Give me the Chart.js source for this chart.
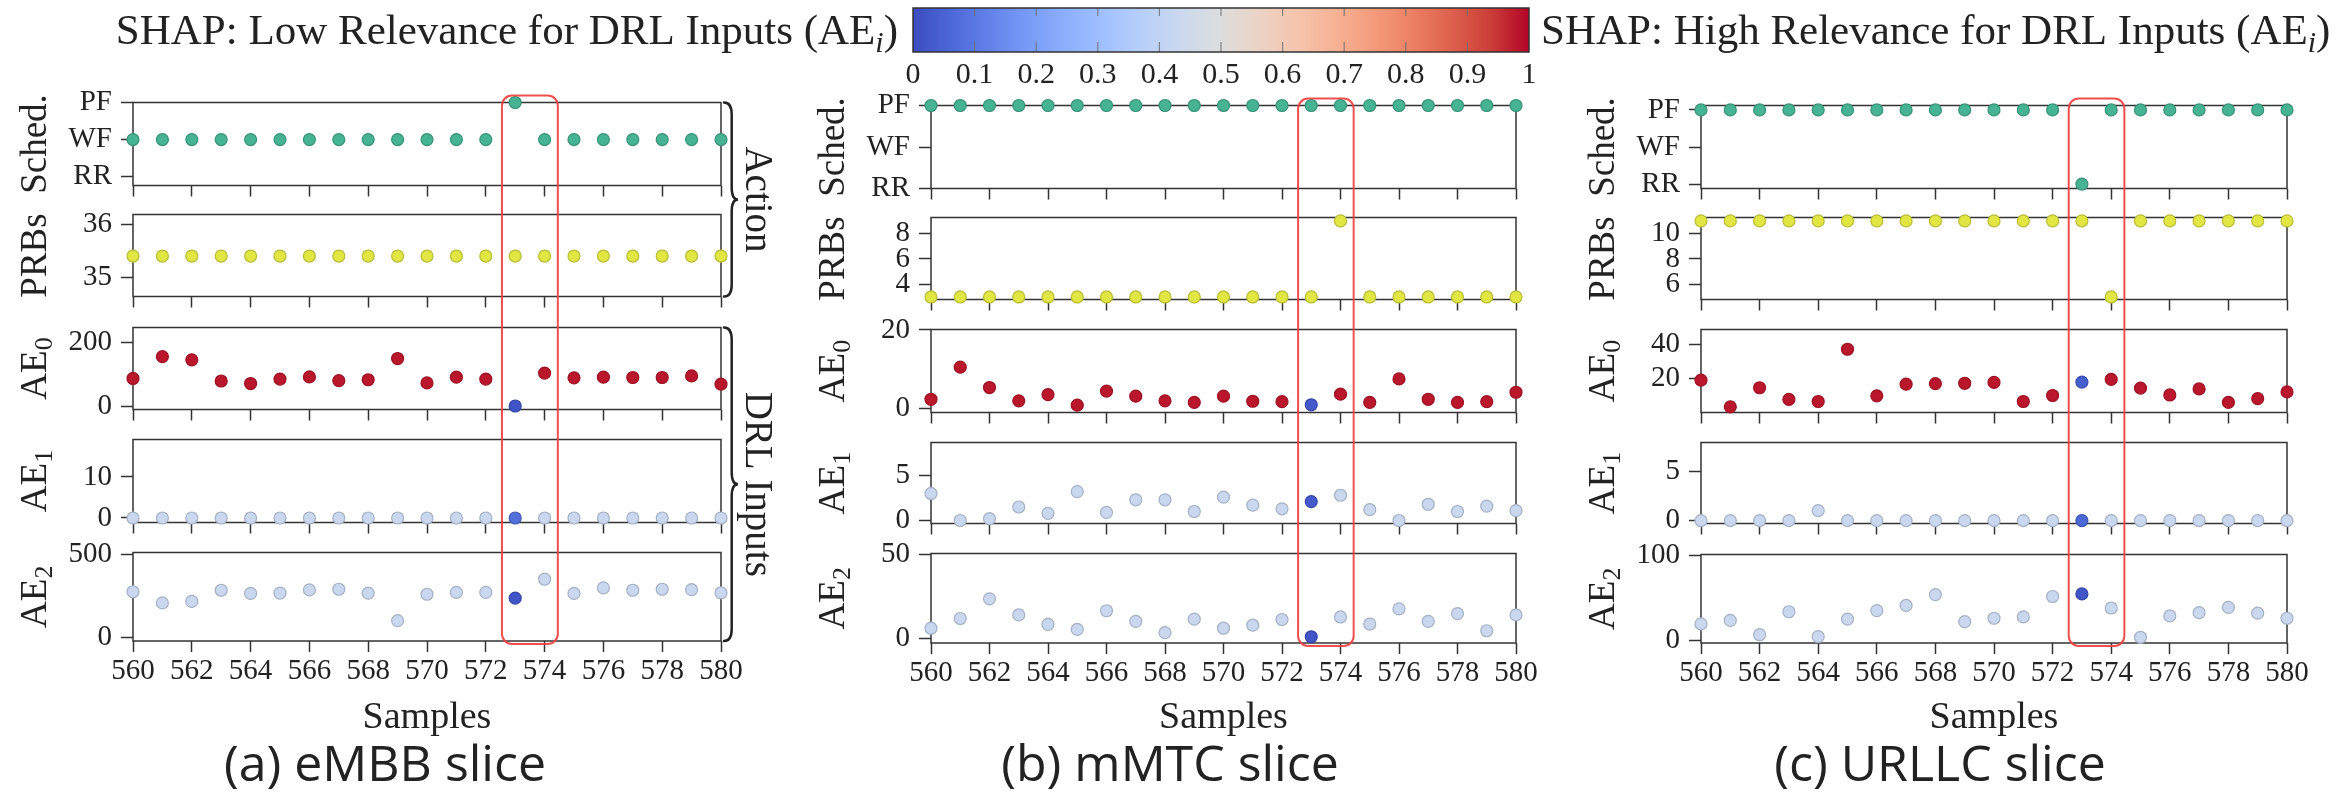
<!DOCTYPE html>
<html><head><meta charset="utf-8">
<script src="https://cdn.jsdelivr.net/npm/chart.js@4.4.1/dist/chart.umd.min.js"></script>
<style>
html,body{margin:0;padding:0;background:#fff;}
#wrap{position:relative;width:2343px;height:792px;overflow:hidden;background:#fff;}
#wrap canvas{position:absolute;}
</style></head><body><div id="wrap"></div>
<script>
// ================= DATA =================
const samples = [560,561,562,563,564,565,566,567,568,569,570,571,572,573,574,575,576,577,578,579,580];
const xTickValues = [560,562,564,566,568,570,572,574,576,578,580];
const schedLabels = ['RR','WF','PF'];          // value 0,1,2
const schedTickValues = [0,1,2];
const colorbarTicks = [0,0.1,0.2,0.3,0.4,0.5,0.6,0.7,0.8,0.9,1];
const highlightSamples = [572.55, 574.45];

// (a) eMBB slice
const embbSched = [1,1,1,1,1,1,1,1,1,1,1,1,1,2,1,1,1,1,1,1,1];
const embbPRBs  = [35.4,35.4,35.4,35.4,35.4,35.4,35.4,35.4,35.4,35.4,35.4,35.4,35.4,35.4,35.4,35.4,35.4,35.4,35.4,35.4,35.4];
const embbAE0   = [87,156,146,79,71,85,92,80,83,150,73,91,85,0,104,89,91,90,90,95,69];
const embbAE1   = [0,0,0,0,0,0,0,0,0,0,0,0,0,0,0,0,0,0,0,0,0];
const embbAE2   = [276,209,218,285,266,268,287,291,268,103,261,272,272,238,351,266,299,285,291,289,270];
const embbShap0 = [0.98,0.98,0.98,0.98,0.98,0.98,0.98,0.98,0.98,0.98,0.98,0.98,0.98,0.02,0.98,0.98,0.98,0.98,0.98,0.98,0.98];
const embbShap1 = [0.43,0.43,0.43,0.43,0.43,0.43,0.43,0.43,0.43,0.43,0.43,0.43,0.43,0.08,0.43,0.43,0.43,0.43,0.43,0.43,0.43];
const embbShap2 = [0.43,0.43,0.43,0.43,0.43,0.43,0.43,0.43,0.43,0.43,0.43,0.43,0.43,0.02,0.43,0.43,0.43,0.43,0.43,0.43,0.43];
const embbPRBsTicks = [35,36];
const embbAE0Ticks = [0,200];
const embbAE1Ticks = [0,10];
const embbAE2Ticks = [0,500];

// (b) mMTC slice
const mmtcSched = [2,2,2,2,2,2,2,2,2,2,2,2,2,2,2,2,2,2,2,2,2];
const mmtcPRBs  = [3,3,3,3,3,3,3,3,3,3,3,3,3,3,9,3,3,3,3,3,3];
const mmtcAE0   = [2.3,10.5,5.3,1.9,3.5,0.8,4.4,3.1,1.9,1.5,3.1,1.8,1.7,0.9,3.6,1.5,7.5,2.3,1.5,1.7,4.1];
const mmtcAE1   = [3.0,0,0.2,1.5,0.8,3.2,0.9,2.3,2.3,1.0,2.6,1.7,1.3,2.1,2.8,1.2,0,1.8,1.0,1.6,1.1];
const mmtcAE2   = [5.9,11.7,23.4,13.8,8.2,5.2,16.3,10.0,3.3,11.3,5.9,7.7,11.1,0.8,12.6,8.4,17.4,10.0,14.6,4.4,13.8];
const mmtcShap0 = [0.98,0.98,0.98,0.98,0.98,0.98,0.98,0.98,0.98,0.98,0.98,0.98,0.98,0.03,0.98,0.98,0.98,0.98,0.98,0.98,0.98];
const mmtcShap1 = [0.43,0.43,0.43,0.43,0.43,0.43,0.43,0.43,0.43,0.43,0.43,0.43,0.43,0.03,0.43,0.43,0.43,0.43,0.43,0.43,0.43];
const mmtcShap2 = [0.43,0.43,0.43,0.43,0.43,0.43,0.43,0.43,0.43,0.43,0.43,0.43,0.43,0.02,0.43,0.43,0.43,0.43,0.43,0.43,0.43];
const mmtcPRBsTicks = [4,6,8];
const mmtcAE0Ticks = [0,20];
const mmtcAE1Ticks = [0,5];
const mmtcAE2Ticks = [0,50];

// (c) URLLC slice
const urllcSched = [2,2,2,2,2,2,2,2,2,2,2,2,2,0,2,2,2,2,2,2,2];
const urllcPRBs  = [11,11,11,11,11,11,11,11,11,11,11,11,11,11,5,11,11,11,11,11,11];
const urllcAE0   = [19.0,3.5,14.6,7.8,6.6,37.0,9.9,16.7,17.0,17.2,17.7,6.6,10.1,17.9,19.5,14.4,10.4,13.9,6.1,8.3,12.2];
const urllcAE1   = [0,0,0,0,1,0,0,0,0,0,0,0,0,0,0,0,0,0,0,0,0];
const urllcAE2   = [19.4,23.5,6.7,33.6,4.5,25,35,41,53.7,22,26,27.6,51.5,54.5,38,3.7,28.7,32.5,38.8,32,26];
const urllcShap0 = [0.98,0.98,0.98,0.98,0.98,0.98,0.98,0.98,0.98,0.98,0.98,0.98,0.98,0.04,0.98,0.98,0.98,0.98,0.98,0.98,0.98];
const urllcShap1 = [0.43,0.43,0.43,0.43,0.43,0.43,0.43,0.43,0.43,0.43,0.43,0.43,0.43,0.06,0.43,0.43,0.43,0.43,0.43,0.43,0.43];
const urllcShap2 = [0.43,0.43,0.43,0.43,0.43,0.43,0.43,0.43,0.43,0.43,0.43,0.43,0.43,0.02,0.43,0.43,0.43,0.43,0.43,0.43,0.43];
const urllcPRBsTicks = [6,8,10];
const urllcAE0Ticks = [20,40];
const urllcAE1Ticks = [0,5];
const urllcAE2Ticks = [0,100];

// ================= STYLE / LAYOUT =================
const SERIF = "'Liberation Serif', 'DejaVu Serif', serif";
const SANS = "'Open Sans', 'Noto Sans', sans-serif";
const INK = '#222';
const FRAME = '#333';
const TEAL = [69,179,148];
const YELLOW = [226,230,66];
Chart.defaults.font.family = SERIF;
Chart.defaults.font.size = 29;
Chart.defaults.font.lineHeight = 1;
Chart.defaults.color = INK;

const coolwarmStops = [[0,59,76,192],[0.03125,68,90,204],[0.0625,77,104,215],[0.125,98,130,234],[0.1875,120,155,247],[0.25,141,176,254],[0.3125,162,193,255],[0.375,184,208,249],[0.4375,204,217,238],[0.5,221,221,221],[0.5625,236,211,197],[0.625,245,196,173],[0.6875,247,177,148],[0.75,244,154,123],[0.8125,236,127,99],[0.875,222,96,77],[0.9375,203,62,56],[1,180,4,38]];
function coolwarm(t){
  for(let i=1;i<coolwarmStops.length;i++){
    const a=coolwarmStops[i-1], b=coolwarmStops[i];
    if(t<=b[0]){ const f=(t-a[0])/(b[0]-a[0]); return [a[1]+(b[1]-a[1])*f, a[2]+(b[2]-a[2])*f, a[3]+(b[3]-a[3])*f]; }
  }
  const l=coolwarmStops[coolwarmStops.length-1]; return [l[1],l[2],l[3]];
}
function rgb(c,k){ k=k||1; return 'rgb('+Math.round(c[0]*k)+','+Math.round(c[1]*k)+','+Math.round(c[2]*k)+')'; }

const panels = [
  { left:133, right:721, rows:[[99,192],[211,303],[324,416],[436,529],[549,641]], captionX:385, caption:'(a) eMBB slice', braces:true,
    series:[
      {main:'Sched.', kind:'sched', values:embbSched, ticks:schedTickValues, min:-0.24, max:2},
      {main:'PRBs', kind:'prb', values:embbPRBs, ticks:embbPRBsTicks, min:34.63, max:36.19},
      {main:'AE', sub:'0', values:embbAE0, shap:embbShap0, ticks:embbAE0Ticks, min:-11, max:248},
      {main:'AE', sub:'1', values:embbAE1, shap:embbShap1, ticks:embbAE1Ticks, min:-1.1, max:19.1},
      {main:'AE', sub:'2', values:embbAE2, shap:embbShap2, ticks:embbAE2Ticks, min:-19, max:511}
    ]},
  { left:931, right:1516, rows:[[102,195],[214,306],[326,419],[439,530],[550,643]], captionX:1170, caption:'(b) mMTC slice',
    series:[
      {main:'Sched.', kind:'sched', values:mmtcSched, ticks:schedTickValues, min:0, max:2},
      {main:'PRBs', kind:'prb', values:mmtcPRBs, ticks:mmtcPRBsTicks, min:2.8, max:9.27},
      {main:'AE', sub:'0', values:mmtcAE0, shap:mmtcShap0, ticks:mmtcAE0Ticks, min:-1.07, max:20.1},
      {main:'AE', sub:'1', values:mmtcAE1, shap:mmtcShap1, ticks:mmtcAE1Ticks, min:-0.33, max:8.65},
      {main:'AE', sub:'2', values:mmtcAE2, shap:mmtcShap2, ticks:mmtcAE2Ticks, min:-2.9, max:50.4}
    ]},
  { left:1701, right:2287, rows:[[102,195],[214,306],[326,419],[439,530],[551,643]], captionX:1940, caption:'(c) URLLC slice',
    series:[
      {main:'Sched.', kind:'sched', values:urllcSched, ticks:schedTickValues, min:-0.12, max:2.12},
      {main:'PRBs', kind:'prb', values:urllcPRBs, ticks:urllcPRBsTicks, min:4.8, max:11.27},
      {main:'AE', sub:'0', values:urllcAE0, shap:urllcShap0, ticks:urllcAE0Ticks, min:0.2, max:48.5},
      {main:'AE', sub:'1', values:urllcAE1, shap:urllcShap1, ticks:urllcAE1Ticks, min:-0.3, max:7.92},
      {main:'AE', sub:'2', values:urllcAE2, shap:urllcShap2, ticks:urllcAE2Ticks, min:-3, max:100.7}
    ]}
];

const wrap = document.getElementById('wrap');

const framePlugin = {
  id:'frame',
  beforeDatasetsDraw(chart){
    const a=chart.chartArea, ctx=chart.ctx;
    ctx.save(); ctx.strokeStyle=FRAME; ctx.lineWidth=1.5;
    ctx.strokeRect(a.left,a.top,a.right-a.left,a.bottom-a.top);
    ctx.restore();
  }
};
const ylabPlugin = {
  id:'ylab',
  afterDraw(chart, args, opts){
    if(!opts || !opts.main) return;
    const a=chart.chartArea, ctx=chart.ctx;
    const cx=a.left-97, cy=(a.top+a.bottom)/2;
    ctx.save(); ctx.translate(cx,cy); ctx.rotate(-Math.PI/2);
    ctx.fillStyle=INK; ctx.textBaseline='middle'; ctx.textAlign='left';
    ctx.font='37px '+SERIF; const w1=ctx.measureText(opts.main).width;
    let w2=0; if(opts.sub){ ctx.font='26px '+SERIF; w2=ctx.measureText(opts.sub).width; }
    const x0=-(w1+w2)/2;
    ctx.font='37px '+SERIF; ctx.fillText(opts.main,x0,0);
    if(opts.sub){ ctx.font='26px '+SERIF; ctx.fillText(opts.sub,x0+w1,9); }
    ctx.restore();
  }
};

const tickFont = {family:SERIF, size:29, lineHeight:1};
const PAD_L=130, PAD_T=20, PAD_R=30;
const chartsByPanel = [];
panels.forEach(p=>{
  const list=[];
  p.series.forEach((r,idx)=>{
    const isLast = idx===p.series.length-1;
    const [top,bottom]=p.rows[idx];
    const bottomExtra = isLast?70:17;
    const w=(p.right-p.left)+PAD_L+PAD_R, h=(bottom-top)+PAD_T+bottomExtra;
    const cv=document.createElement('canvas');
    cv.width=w; cv.height=h;
    cv.style.left=(p.left-PAD_L)+'px'; cv.style.top=(top-PAD_T)+'px';
    cv.style.width=w+'px'; cv.style.height=h+'px';
    wrap.appendChild(cv);
    const pts=samples.map((x,i)=>({x:x,y:r.values[i]}));
    const fillCols=samples.map((x,i)=> r.kind==='sched'?TEAL : r.kind==='prb'?YELLOW : coolwarm(r.shap[i]));
    const chart=new Chart(cv,{
      type:'scatter',
      data:{datasets:[{data:pts, backgroundColor:fillCols.map(c=>rgb(c)), borderColor:fillCols.map(c=>rgb(c,0.82)),
        pointRadius:6, pointHoverRadius:6, pointBorderWidth:1.2, clip:false}]},
      options:{
        responsive:false, animation:false, devicePixelRatio:1, events:[],
        font: tickFont,
        layout:{padding:{left:0,top:PAD_T,right:PAD_R,bottom:0}},
        plugins:{legend:{display:false}, tooltip:{enabled:false}, ylab:{main:r.main, sub:r.sub}},
        scales:{
          x:{type:'linear', position:'bottom', min:560, max:580, bounds:'data',
            afterBuildTicks:s=>{ s.ticks=xTickValues.map(v=>({value:v})); },
            afterFit:s=>{ s.height=bottomExtra; },
            grid:{drawOnChartArea:false, drawTicks:true, tickLength:11, tickColor:FRAME, tickWidth:1.5, color:FRAME},
            border:{display:false},
            ticks:{display:isLast, padding:5, color:INK, font:tickFont, maxRotation:0, minRotation:0, autoSkip:false, callback:v=>String(v)}
          },
          y:{type:'linear', position:'left', min:r.min, max:r.max, bounds:'data',
            afterBuildTicks:s=>{ s.ticks=r.ticks.map(v=>({value:v})); },
            afterFit:s=>{ s.width=PAD_L; },
            grid:{drawOnChartArea:false, drawTicks:true, tickLength:12, tickColor:FRAME, tickWidth:1.5, color:FRAME},
            border:{display:false},
            ticks:{padding:9, color:INK, font:tickFont, autoSkip:false, callback:v=> r.kind==='sched'? schedLabels[v] : String(v)}
          }
        }
      },
      plugins:[framePlugin, ylabPlugin]
    });
    list.push({chart:chart, left:p.left-PAD_L, top:top-PAD_T});
  });
  chartsByPanel.push(list);
});

// ---------- colorbar (Chart.js axis 0..1) ----------
(function(){
  const cbLeft=913, cbRight=1529, cbTop=8, cbBottom=52, side=30;
  const w=(cbRight-cbLeft)+2*side, h=100;
  const cv=document.createElement('canvas');
  cv.width=w; cv.height=h; cv.style.left=(cbLeft-side)+'px'; cv.style.top='0px';
  cv.style.width=w+'px'; cv.style.height=h+'px';
  wrap.appendChild(cv);
  const cbPlugin={
    id:'cb',
    beforeDraw(chart){
      const a=chart.chartArea, ctx=chart.ctx, sx=chart.scales.x;
      const g=ctx.createLinearGradient(a.left,0,a.right,0);
      coolwarmStops.forEach(s=>g.addColorStop(s[0],'rgb('+s[1]+','+s[2]+','+s[3]+')'));
      ctx.save(); ctx.fillStyle=g; ctx.fillRect(a.left,a.top,a.right-a.left,a.bottom-a.top);
      ctx.strokeStyle='rgba(110,110,110,0.8)'; ctx.lineWidth=1.2;
      colorbarTicks.slice(1,-1).forEach(v=>{
        const x=sx.getPixelForValue(v);
        ctx.beginPath(); ctx.moveTo(x,a.top); ctx.lineTo(x,a.top+8); ctx.moveTo(x,a.bottom); ctx.lineTo(x,a.bottom-10); ctx.stroke();
      });
      ctx.strokeStyle=FRAME; ctx.lineWidth=1.5; ctx.strokeRect(a.left,a.top,a.right-a.left,a.bottom-a.top);
      ctx.restore();
    }
  };
  const cbFont={family:SERIF, size:30, lineHeight:1};
  new Chart(cv,{
    type:'scatter', data:{datasets:[{data:[]}]},
    options:{
      responsive:false, animation:false, devicePixelRatio:1, events:[],
      font: cbFont,
      layout:{padding:{left:side,right:side,top:cbTop,bottom:0}},
      plugins:{legend:{display:false},tooltip:{enabled:false}},
      scales:{
        x:{type:'linear', min:0, max:1, bounds:'data',
          afterBuildTicks:s=>{ s.ticks=colorbarTicks.map(v=>({value:v})); },
          afterFit:s=>{ s.height=h-cbBottom; },
          grid:{drawOnChartArea:false, drawTicks:false}, border:{display:false},
          ticks:{padding:8, color:INK, font:cbFont, maxRotation:0, autoSkip:false,
            callback:v=> (v===0?'0':v===1?'1':v.toFixed(1))}
        },
        y:{display:false, min:0, max:1}
      }
    },
    plugins:[cbPlugin]
  });
})();

// ---------- overlay: titles, braces, highlights, captions ----------
const ov=document.createElement('canvas');
ov.width=2343; ov.height=792; ov.style.left='0px'; ov.style.top='0px'; ov.style.width='2343px'; ov.style.height='792px';
ov.style.pointerEvents='none';
wrap.appendChild(ov);
const ctx=ov.getContext('2d');

function drawRich(parts,x,y,align){
  let total=0;
  parts.forEach(p=>{ ctx.font=p.font; p.w=ctx.measureText(p.t).width; total+=p.w; });
  let cx= align==='right'? x-total : align==='center'? x-total/2 : x;
  ctx.textAlign='left'; ctx.textBaseline='alphabetic';
  parts.forEach(p=>{ ctx.font=p.font; ctx.fillText(p.t,cx,y+(p.dy||0)); cx+=p.w; });
}
ctx.fillStyle=INK;
const TF='43px '+SERIF, TFi='italic 30px '+SERIF;
drawRich([{t:'SHAP: Low Relevance for DRL Inputs (AE',font:TF},{t:'i',font:TFi,dy:8},{t:')',font:TF}],898,44,'right');
drawRich([{t:'SHAP: High Relevance for DRL Inputs (AE',font:TF},{t:'i',font:TFi,dy:8},{t:')',font:TF}],1541,44,'left');

function brace(x,y1,y2,w){
  const m=(y1+y2)/2, r=12, xm=x+w*0.55;
  ctx.beginPath();
  ctx.moveTo(x,y1);
  ctx.quadraticCurveTo(xm,y1,xm,y1+r);
  ctx.lineTo(xm,m-r);
  ctx.quadraticCurveTo(xm,m,x+w,m);
  ctx.quadraticCurveTo(xm,m,xm,m+r);
  ctx.lineTo(xm,y2-r);
  ctx.quadraticCurveTo(xm,y2,x,y2);
  ctx.stroke();
}
function vtext(t,x,y,font){
  ctx.save(); ctx.translate(x,y); ctx.rotate(Math.PI/2);
  ctx.font=font; ctx.textAlign='center'; ctx.textBaseline='middle'; ctx.fillStyle=INK;
  ctx.fillText(t,0,0); ctx.restore();
}

panels.forEach((p,pi)=>{
  const L=chartsByPanel[pi];
  const first=L[0], last=L[L.length-1];
  const ax=first.chart.scales.x;
  const x1=first.left+ax.getPixelForValue(highlightSamples[0]);
  const x2=first.left+ax.getPixelForValue(highlightSamples[1]);
  const yTop=first.top+first.chart.chartArea.top-7;
  const yBot=last.top+last.chart.chartArea.bottom+3;
  ctx.save(); ctx.strokeStyle='rgba(238,64,64,0.92)'; ctx.lineWidth=2;
  ctx.beginPath(); ctx.roundRect(x1,yTop,x2-x1,yBot-yTop,10); ctx.stroke(); ctx.restore();

  const aL=first.left+first.chart.chartArea.left, aR=first.left+first.chart.chartArea.right;
  const cx=(aL+aR)/2;
  ctx.fillStyle=INK; ctx.textAlign='center'; ctx.textBaseline='alphabetic';
  ctx.font='38px '+SERIF; ctx.fillText('Samples',cx,728);
  ctx.font='50px '+SANS; ctx.fillText(p.caption,p.captionX,781);

  if(p.braces){
    const top0=L[0].top+L[0].chart.chartArea.top, bot1=L[1].top+L[1].chart.chartArea.bottom;
    const top2=L[2].top+L[2].chart.chartArea.top, bot4=L[4].top+L[4].chart.chartArea.bottom;
    const bx=aR+3;
    ctx.save(); ctx.strokeStyle=INK; ctx.lineWidth=2.5; ctx.lineCap='round';
    brace(bx,top0,bot1,14); brace(bx,top2,bot4,14); ctx.restore();
    vtext('Action',bx+32,(top0+bot1)/2,'39px '+SERIF);
    vtext('DRL Inputs',bx+32,(top2+bot4)/2,'39px '+SERIF);
  }
});
</script>
</body></html>
